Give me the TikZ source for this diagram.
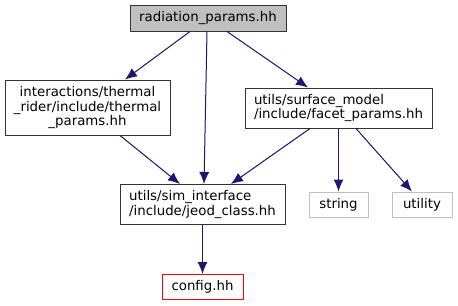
\documentclass[tikz,border=0pt]{standalone}
\usepackage{fontspec}
\setmainfont{DejaVu Sans}
\usetikzlibrary{arrows.meta, positioning, calc}

\definecolor{edgeblue}{HTML}{191970}
\definecolor{rootfill}{HTML}{BFBFBF}
\definecolor{sysgray}{HTML}{BFBFBF}
\definecolor{missred}{HTML}{FF0000}

\begin{document}
\begin{tikzpicture}[
      x=0.75pt, y=-0.75pt,
      font=\fontsize{10}{11}\selectfont,
      file/.style={rectangle, draw=black!80, line width=0.75pt, inner sep=0pt, minimum height=30pt},
      root/.style={file, fill=rootfill, minimum width=117pt, minimum height=19.5pt},
      sysfile/.style={file, draw=sysgray, minimum height=18.75pt},
      missing/.style={file, draw=missred, minimum height=18.75pt},
      edge/.style={-{Latex[length=9pt, width=7.5pt]}, draw=edgeblue, fill=edgeblue, line width=0.75pt}
    ]
    \useasboundingbox (0,0) rectangle (458,305);

    \node[root] (radiation) at (208,18) {radiation\_params.hh};
    \node[file, align=center, minimum width=123.75pt, minimum height=41.25pt] (thermal) at (87.5,107.5)
      {interactions/thermal\\\_rider/include/thermal\\\_params.hh};
    \node[file, align=left, minimum width=140.25pt] (facet) at (338.5,108)
      {utils/surface\_model\\/include/facet\_params.hh};
    \node[file, align=left, minimum width=123.75pt] (jeodclass) at (202.5,204.5)
      {utils/sim\_interface\\/include/jeod\_class.hh};
    \node[sysfile, minimum width=44.25pt] (string) at (338.5,204.5) {string};
    \node[sysfile, minimum width=45pt] (utility) at (422,204.5) {utility};
    \node[missing, minimum width=60.75pt, below=36.75pt of jeodclass] (config) {config.hh};

    \draw[edge] ($(radiation.south)+(-18,0)$) -- ($(thermal.north)+(37.5,0)$);
    \draw[edge] ($(radiation.south)+(-1,0)$) -- ($(jeodclass.north)+(1.5,0)$);
    \draw[edge] ($(radiation.south)+(19,0)$) -- ($(facet.north)+(-30.5,0)$);
    \draw[edge] ($(thermal.south)+(32.5,0)$) -- ($(jeodclass.north)+(-22.5,0)$);
    \draw[edge] ($(facet.south)+(-28.5,0)$) -- ($(jeodclass.north)+(28.5,0)$);
    \draw[edge] (facet.south) -- (string.north);
    \draw[edge] ($(facet.south)+(17.5,0)$) -- ($(utility.north)+(-10,0)$);
    \draw[edge] (jeodclass.south) -- (config.north);
  \end{tikzpicture}
\end{document}
